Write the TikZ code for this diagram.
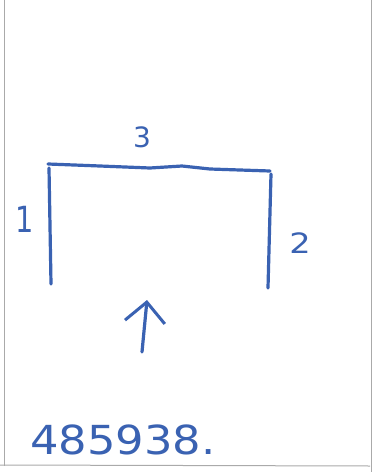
\documentclass[tikz,border=0pt]{standalone}
\usepackage{fontspec}
\setmainfont{DejaVu Sans}
\usetikzlibrary{arrows.meta}
\definecolor{pen}{RGB}{58,98,178}
\definecolor{scan}{RGB}{170,170,170}

\begin{document}
\begin{tikzpicture}[x=1pt, y=-1pt, every node/.style={text=pen, inner sep=0pt}]
\tikzset{stroke/.style={draw=pen, line width=3.2pt, line cap=round, line join=round}}
\tikzset{edge/.style={draw=scan, line width=1pt}}
\tikzset{digit/.style={font=\fontsize{#1}{#1}\selectfont}}
\useasboundingbox[fill=white] (0,0) rectangle (374,472);
% scanned page borders
\draw[edge] (4,0) -- (4,466);
\draw[edge] (371,0) -- (371,472);
\draw[edge] (0,465) -- (370,466);
% bracket corners
\coordinate (topleft) at (48,164);
\coordinate (topright) at (270,171);
\coordinate (footleft) at (51,284);
\coordinate (footright) at (268,288);
\draw[stroke] (topleft) -- (100,166) -- (150,168) -- (182,166) -- (210,169) -- (topright);
\draw[stroke] (49,168) -- (footleft);
\draw[stroke] (271,174) -- (footright);
% labels
\node[digit=28] (three) at (142,137) {3};
\node[digit=36, xscale=0.8] (one) at (25,219) {1};
\node[digit=28, xscale=1.2] (two) at (300,243) {2};
% arrow
\coordinate (tail) at (142,352);
\coordinate (head) at (147,300);
\draw[stroke, -{Straight Barb[length=20pt, width=40pt, line width=3pt]}] (tail) -- (head);
% number
\node[digit=40, xscale=1.12, anchor=west] (code) at (30,440) {485938.};
\end{tikzpicture}
\end{document}
